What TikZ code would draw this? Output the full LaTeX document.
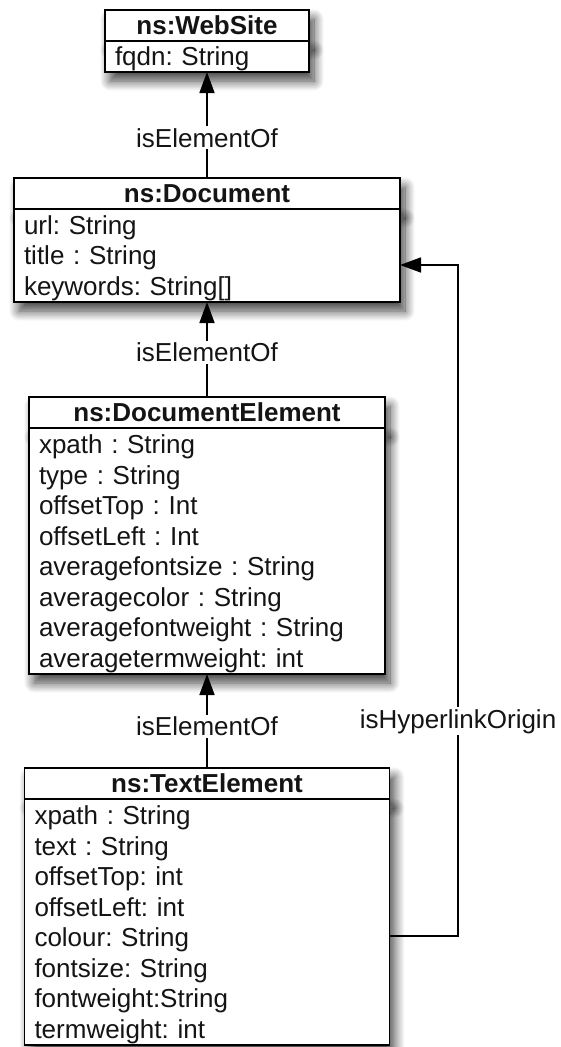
\documentclass[tikz,border=0pt]{standalone}
\usepackage{fontspec}
\setmainfont{Liberation Sans}
\frenchspacing
\usetikzlibrary{positioning,arrows.meta,shadows.blur}

\begin{document}
\begin{tikzpicture}[x=1pt,y=-1pt,
	every node/.style={font=\fontsize{26}{30.5}\selectfont,text=black!92},
	umlshadow/.style={blur shadow={shadow xshift=5pt,shadow yshift=-9pt,shadow blur radius=10pt,shadow blur steps=12,shadow opacity=75}},
	classhead/.style={draw,line width=1.6pt,fill=white,font=\fontsize{26}{30.5}\selectfont\bfseries,minimum height=31pt,inner sep=0pt,outer sep=0pt,umlshadow},
	classbody/.style={draw,line width=1.6pt,fill=white,align=left,inner xsep=10pt,inner ysep=0pt,outer sep=0pt,umlshadow,execute at begin node={\rule{0pt}{24pt}}},
	rel/.style={line width=1.6pt,-{Triangle[width=15pt,length=21pt]}},
	rellabel/.style={fill=white,inner sep=2pt}
	]
	\useasboundingbox (0,0) rectangle (560,1047);

	% classes
	\node[classhead,minimum width=204pt] (web) at (207,25.5) {ns:WebSite};
	\node[classbody,below=0pt of web,text width=184pt,minimum height=31pt] (webbody) {fqdn: String};

	\node[classhead,minimum width=386pt] (doc) at (207,193.5) {ns:Document};
	\node[classbody,below=0pt of doc,text width=366pt,minimum height=93pt] (docbody) {url: String\\title : String\\keywords: String[]};

	\node[classhead,minimum width=356pt] (delem) at (207,412.5) {ns:DocumentElement};
	\node[classbody,below=0pt of delem,text width=336pt,minimum height=246pt] (delembody) {xpath : String\\type : String\\offsetTop : Int\\offsetLeft : Int\\averagefontsize : String\\averagecolor : String\\averagefontweight : String\\averagetermweight: int};

	\node[classhead,minimum width=365pt] (telem) at (207,783.5) {ns:TextElement};
	\node[classbody,below=0pt of telem,text width=345pt,minimum height=246pt] (telembody) {xpath : String\\text : String\\offsetTop: int\\offsetLeft: int\\colour: String\\fontsize: String\\fontweight:String\\termweight: int};

	% relations
	\draw[rel] (doc.north) -- node[rellabel,pos=0.38] {isElementOf} (webbody.south);
	\draw[rel] (delem.north) -- node[rellabel,pos=0.47] {isElementOf} (docbody.south);
	\draw[rel] (telem.north) -- node[rellabel,pos=0.44] {isElementOf} (delembody.south);

	\coordinate (hlbot) at (458,936);
	\coordinate (hltop) at (458,265);
	\draw[rel] (telembody.east |- hlbot) -- (hlbot) -- node[rellabel,pos=0.32] {isHyperlinkOrigin} (hltop) -- (docbody.east |- hltop);
\end{tikzpicture}
\end{document}
